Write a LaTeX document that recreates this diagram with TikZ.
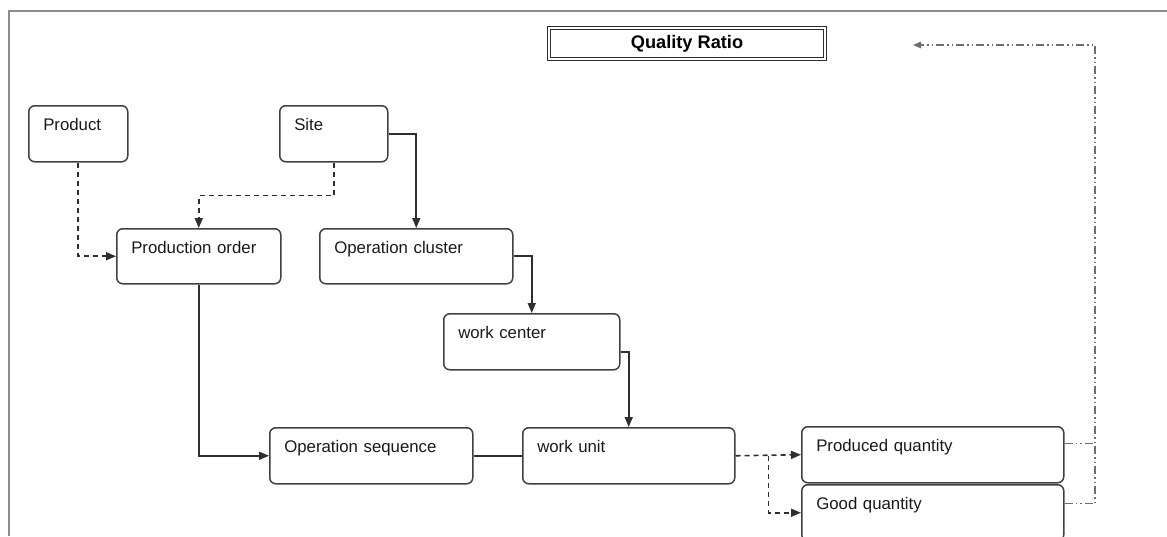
\documentclass[tikz,border=0pt]{standalone}
\usepackage{fontspec}
\usetikzlibrary{arrows.meta}
\newfontfamily\lblfont{Liberation Sans}
\definecolor{boxc}{HTML}{404040}
\definecolor{linec}{HTML}{2E2E2E}
\definecolor{framec}{HTML}{8C8C8C}
\definecolor{ddc}{HTML}{6E6E6E}
\tikzset{
  blk/.style={draw=boxc, line width=1.5pt, rounded corners=6pt, anchor=north west,
    align=left, inner xsep=14.5pt, inner ysep=0pt, text height=24.5pt, text depth=#1,
    font=\lblfont\fontsize{16.8}{20}\selectfont, text=black!90},
  blk/.default=31.5pt,
  flow/.style={draw=linec, line width=1.6pt, -{Triangle[length=10pt,width=8pt]}},
  plain/.style={draw=linec, line width=1.6pt},
  dashflow/.style={flow, dash pattern=on 5pt off 4pt},
  ddflow/.style={draw=ddc, line width=1.4pt,
    dash pattern=on 8pt off 3pt on 1.5pt off 3pt on 1.5pt off 3pt},
}
\begin{document}
\begin{tikzpicture}[x=1pt, y=-1pt]
\useasboundingbox (0,0) rectangle (1167,536);

% outer frame (top and left edges)
\draw[framec, line width=2.2pt] (9,536) -- (9,11) -- (1167,11);

% heading
\node[draw=linec, line width=1.3pt, double=white, double distance=1.6pt,
      minimum width=276pt, minimum height=31pt, inner sep=0pt,
      font=\lblfont\bfseries\fontsize{18.2}{22}\selectfont] (qr) at (687,43.5) {Quality Ratio};

% entity boxes
\node[blk, text width=70pt]  (product)  at (28,105)  {Product};
\node[blk, text width=79pt]  (site)     at (279,105) {Site};
\node[blk=30.5pt, text width=135pt] (porder)   at (116,228) {Production order};
\node[blk=30.5pt, text width=164pt] (ocluster) at (319,228) {Operation cluster};
\node[blk, text width=147pt] (wcenter)  at (443,313) {work center};
\node[blk, text width=174pt] (oseq)     at (269,427) {Operation sequence};
\node[blk, text width=183pt] (wunit)    at (522,427) {work unit};
\node[blk, text width=233pt] (prodq)    at (801,426) {Produced quantity};
\node[blk, text width=233pt] (goodq)    at (801,484) {Good quantity};

% dashed references into the production order
\draw[dashflow] (product.south) |- (porder.west);
\draw[dashflow] (site.south) -- ++(0,33) -| (porder.north);

% solid hierarchy links
\draw[flow] (site.east) -| (ocluster.north);
\draw[flow] (ocluster.east) -| (wcenter.north);
\draw[flow] ([yshift=-10pt]wcenter.east) -| (wunit.north);
\draw[flow] (porder.south) |- (oseq.west);
\draw[plain] (oseq.east) -- (wunit.west);

% quantities reported by the work unit
\path (wunit.east) -- ++(33,0) coordinate (split);
\draw[dashflow] (wunit.east) -- (prodq.west);
\draw[dashflow] (split) |- (goodq.west);

% feedback towards the ratio
\coordinate (fbk) at (1095,45);
\coordinate (fbtip) at (913,45);
\draw[ddflow] ([yshift=11pt]prodq.east) -- ([yshift=11pt]fbk |- prodq.east);
\draw[ddflow, -{Triangle[length=8pt,width=6.5pt]}] ([yshift=9pt]goodq.east) -| (fbk) -- (fbtip);
\end{tikzpicture}
\end{document}
